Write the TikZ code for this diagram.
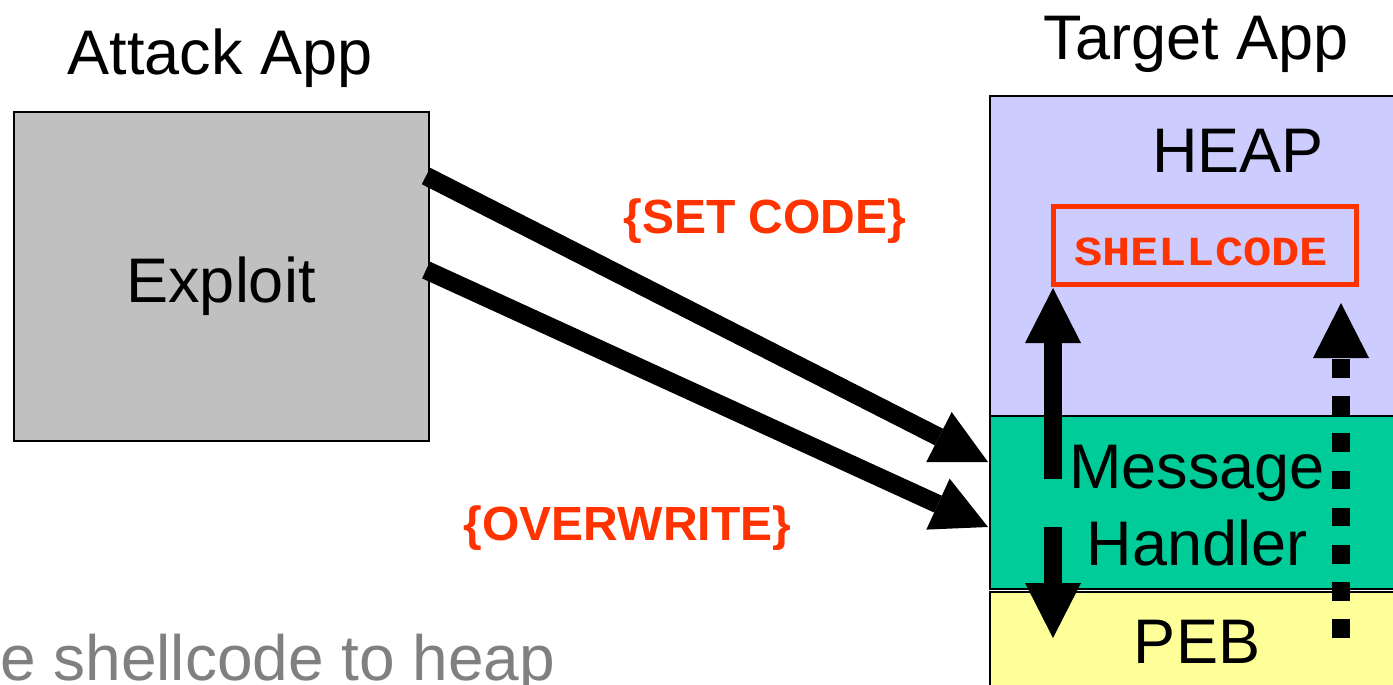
\documentclass[tikz,border=0pt]{standalone}
\usepackage{fontspec}
\setmainfont{Liberation Sans}
\newfontfamily\codefont{Liberation Mono}
\usetikzlibrary{arrows.meta}

\definecolor{exploitgray}{HTML}{C0C0C0}
\definecolor{heapblue}{HTML}{CCCCFF}
\definecolor{handlergreen}{HTML}{00CC99}
\definecolor{pebyellow}{HTML}{FFFF99}
\definecolor{alertred}{HTML}{FF3300}
\definecolor{captiongray}{HTML}{808080}

\tikzset{
  region/.style={draw=black, line width=2pt, anchor=north west, inner sep=0pt},
  bigtext/.style={font=\fontsize{63}{63}\selectfont, inner sep=0pt, anchor=base},
  redlabel/.style={font=\fontsize{48}{48}\selectfont\bfseries, text=alertred, inner sep=0pt, anchor=base},
  bigarrow/.style={line width=18.5pt, line cap=butt,
    -{Triangle[length=55pt, width=56pt, line width=0pt]}},
}

\begin{document}
\begin{tikzpicture}[x=1pt, y=-1pt]
\useasboundingbox (0,0) rectangle (1393,685);
\clip (0,0) rectangle (1393,685);

% attacker side
\node[region, fill=exploitgray, minimum width=415pt, minimum height=329pt] (exploit) at (13,111) {};
\node[bigtext] (attacktitle) at (220,75) {Attack App};
\node[bigtext] (exploittext) at (221,302) {Exploit};

% target process memory
\node[region, fill=heapblue, minimum width=500pt, minimum height=320pt] (heap) at (989,95) {};
\node[region, fill=handlergreen, minimum width=500pt, minimum height=173pt] (handler) at (989,415) {};
\node[region, fill=pebyellow, minimum width=500pt, minimum height=200pt] (peb) at (989,591) {};
\node[bigtext] (targettitle) at (1196,60) {Target App};
\node[bigtext] (heaptext) at (1238,172) {HEAP};
\node[bigtext] (msgtext) at (1197,488) {Message};
\node[bigtext] (hdltext) at (1197,565) {Handler};
\node[bigtext] (pebtext) at (1197,663) {PEB};

% injected code block in the heap
\node[draw=alertred, line width=5pt, minimum width=303pt, minimum height=78pt, inner sep=0pt] (shellcode) at (1205,245.5) {};
\node[text=alertred, inner sep=0pt, anchor=base, yscale=0.88, transform shape,
      font=\fontsize{47}{47}\selectfont\codefont\bfseries] (shellcodetext) at (1201,265) {SHELLCODE};

% messages sent to the target
\coordinate (setfrom) at (426,176);
\coordinate (setto) at (988,462);
\coordinate (ovrfrom) at (426,270);
\coordinate (ovrto) at (988,527);
\draw[bigarrow] (setfrom) -- (setto);
\draw[bigarrow] (ovrfrom) -- (ovrto);
\node[redlabel] (setlabel) at (765,233) {\{SET CODE\}};
\node[redlabel] (ovrlabel) at (627.5,540) {\{OVERWRITE\}};

% control flow inside the target
\coordinate (upfrom) at (1053,479);
\coordinate (upto) at (1053,288);
\coordinate (downfrom) at (1053,527);
\coordinate (downto) at (1053,638);
\coordinate (jumpfrom) at (1341,638);
\coordinate (jumpto) at (1341,303);
\draw[bigarrow] (upfrom) -- (upto);
\draw[bigarrow] (downfrom) -- (downto);
\draw[bigarrow, dash pattern=on 18.6pt off 18.6pt] (jumpfrom) -- (jumpto);

% caption
\node[font=\fontsize{64}{64}\selectfont, text=captiongray, inner sep=0pt, anchor=base west] (caption) at (0,680) {e shellcode to heap};
\end{tikzpicture}
\end{document}
